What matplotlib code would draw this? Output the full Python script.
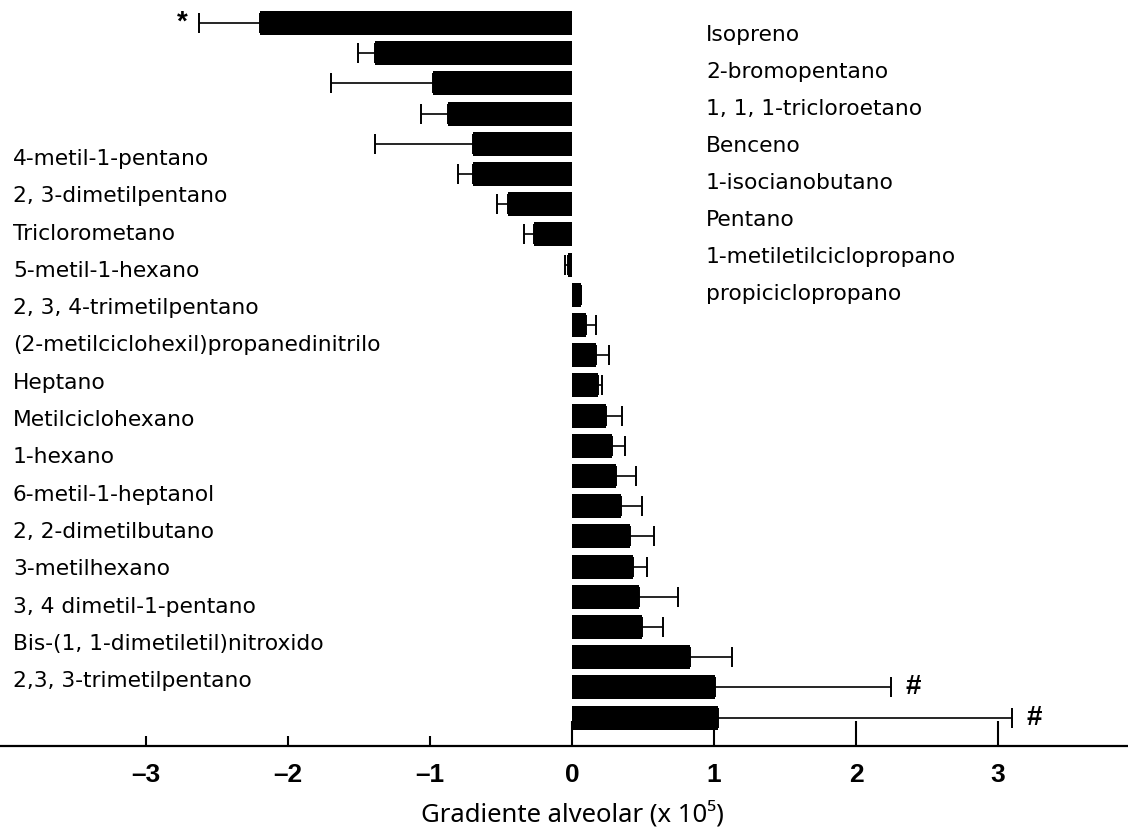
import numpy as np
import matplotlib
matplotlib.use('Agg')
import matplotlib.pyplot as plt

plt.rcParams['font.family'] = ['DejaVu Sans']

# valores de las barras (de arriba hacia abajo) y su error (un solo lado)
valores = [-2.20, -1.39, -0.98, -0.87, -0.70, -0.70, -0.45, -0.27, -0.03,
           0.06, 0.10, 0.17, 0.18, 0.24, 0.28, 0.31, 0.345, 0.41, 0.43,
           0.47, 0.49, 0.83, 1.01, 1.03]
errores = [0.43, 0.12, 0.72, 0.19, 0.69, 0.10, 0.08, 0.07, 0.02,
           0.0, 0.07, 0.09, 0.03, 0.11, 0.09, 0.14, 0.145, 0.17, 0.10,
           0.28, 0.15, 0.30, 1.24, 2.07]
marcas = {0: '*', 22: '#', 23: '#'}

izquierda = ['4-metil-1-pentano', '2, 3-dimetilpentano', 'Triclorometano',
             '5-metil-1-hexano', '2, 3, 4-trimetilpentano',
             '(2-metilciclohexil)propanedinitrilo', 'Heptano', 'Metilciclohexano',
             '1-hexano', '6-metil-1-heptanol', '2, 2-dimetilbutano', '3-metilhexano',
             '3, 4 dimetil-1-pentano', 'Bis-(1, 1-dimetiletil)nitroxido',
             '2,3, 3-trimetilpentano']
derecha = ['Isopreno', '2-bromopentano', '1, 1, 1-tricloroetano', 'Benceno',
           '1-isocianobutano', 'Pentano', '1-metiletilciclopropano',
           'propiciclopropano']

ticks_pos = [0, 1, 2, 3]
ticks_neg = [-3, -2, -1]
etiquetas_pos = ['0', '1', '2', '3']
etiquetas_neg = ['–3', '–2', '–1']

W, H = 1128, 835
fig = plt.figure(figsize=(W / 100, H / 100), dpi=100)
ax = fig.add_axes([0, 1 - 746 / H, 1, 746 / H])

y = np.arange(len(valores))
v = np.array(valores)
e = np.array(errores)
xerr = [np.where(v < 0, e, 0), np.where(v >= 0, e, 0)]

ax.barh(y, v, height=0.8, color='black', zorder=2)
ax.errorbar(v, y, xerr=xerr, fmt='none', ecolor='black', elinewidth=1.2,
            capsize=7, capthick=1.4, zorder=1)

for i, m in marcas.items():
    x_fin = v[i] + np.sign(v[i]) * e[i]
    ha = 'right' if v[i] < 0 else 'left'
    dx = -0.08 if v[i] < 0 else 0.1
    ax.text(x_fin + dx, i, m, ha=ha, va='center', fontsize=20,
            fontweight='bold', family=['Liberation Sans'])

ax.set_xlim(-572 / 142, 556 / 142)
ax.set_ylim((746 - 23) / 30.2, -23 / 30.2)

for s in ['left', 'right', 'top']:
    ax.spines[s].set_visible(False)
ax.spines['bottom'].set_linewidth(1.6)
ax.set_yticks([])

fuente_ticks = {'family': ['Liberation Sans Narrow', 'Liberation Sans'],
                'weight': 'bold', 'size': 19}
ax.set_xticks(ticks_pos)
ax.set_xticklabels(etiquetas_pos, fontdict=fuente_ticks)
ax.set_xticks(ticks_neg, minor=True)
ax.set_xticklabels(etiquetas_neg, minor=True, fontdict=fuente_ticks)
ax.tick_params(axis='x', which='major', direction='in', length=18, width=1.5, pad=12)
ax.tick_params(axis='x', which='minor', direction='in', length=7, width=1.5, pad=12)

for i, t in enumerate(izquierda):
    fig.text(13 / W, 1 - (159 + 37.3 * i) / H, t, fontsize=15.7, va='center', ha='left')
for i, t in enumerate(derecha):
    fig.text(706 / W, 1 - (35 + 37 * i) / H, t, fontsize=15.7, va='center', ha='left')

fig.text(572 / W, 1 - 815 / H, 'Gradiente alveolar (x 10⁵)', fontsize=18.5,
         fontweight='medium', ha='center', va='center',
         family=['Noto Sans', 'DejaVu Sans'])

fig.savefig('out.png', dpi=100)
